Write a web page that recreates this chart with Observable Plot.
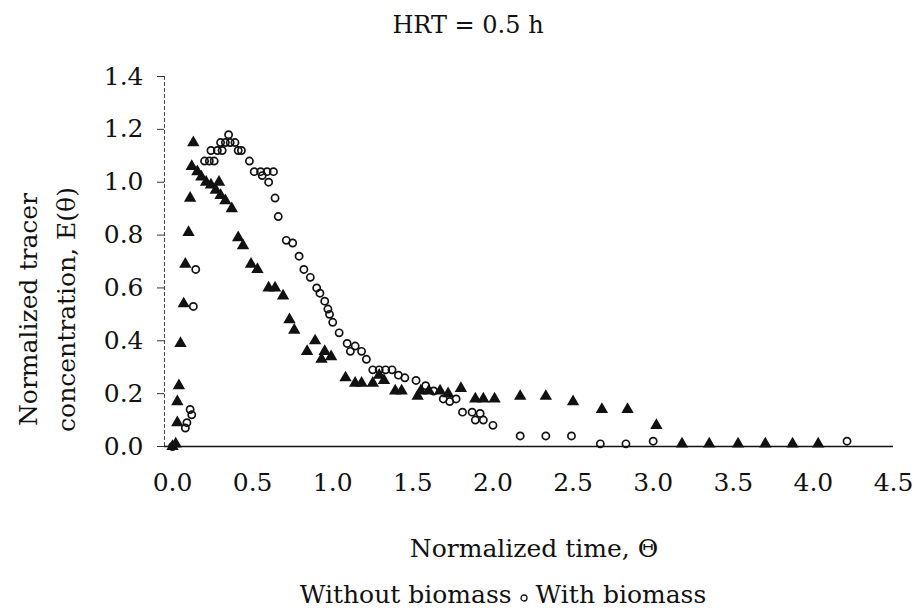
<!DOCTYPE html>
<html>
<head>
<meta charset="utf-8">
<script src="https://cdn.jsdelivr.net/npm/d3@7"></script>
<script src="https://cdn.jsdelivr.net/npm/@observablehq/plot@0.6"></script>
<style>
  html, body { margin: 0; padding: 0; background: #fff; overflow: hidden; }
  body { width: 918px; height: 611px; position: relative; font-family: "DejaVu Serif", serif; color: #111; }
  #title { position: absolute; top: 10px; left: 18px; width: 900px; text-align: center; font-size: 24px; line-height: 30px; }
  #chart { position: absolute; top: 40px; left: 0; }
  #legend { position: absolute; top: 580px; left: 88px; width: 830px; text-align: center; font-size: 25px; line-height: 30px; white-space: nowrap; }
  #legend svg { vertical-align: middle; margin: 0 7px; }
</style>
</head>
<body>
<div id="title">HRT = 0.5 h</div>
<div id="chart"></div>
<div id="legend">Without biomass<svg width="10" height="12"><circle cx="5" cy="7" r="3" fill="none" stroke="#111" stroke-width="1.3"></circle></svg>With biomass</div>
<script>
// Without biomass (filled triangles)
const thetaWithout = [0.00, 0.02, 0.03, 0.03, 0.04, 0.05, 0.07, 0.08, 0.10, 0.11, 0.13, 0.12, 0.155, 0.18, 0.21, 0.24, 0.27, 0.29, 0.30, 0.33, 0.37, 0.41, 0.44, 0.49, 0.53, 0.60, 0.64, 0.69, 0.73, 0.76, 0.84, 0.89, 0.93, 0.95, 0.99, 1.08, 1.14, 1.18, 1.25, 1.29, 1.32, 1.39, 1.43, 1.53, 1.55, 1.60, 1.67, 1.72, 1.80, 1.89, 1.94, 2.01, 2.17, 2.33, 2.50, 2.68, 2.84, 3.02, 3.18, 3.35, 3.53, 3.70, 3.87, 4.03];
const eWithout     = [0.00, 0.01, 0.09, 0.17, 0.23, 0.39, 0.54, 0.69, 0.81, 0.94, 1.15, 1.06, 1.04, 1.02, 1.00, 0.99, 0.97, 1.00, 0.95, 0.93, 0.90, 0.79, 0.76, 0.69, 0.67, 0.60, 0.60, 0.57, 0.48, 0.44, 0.36, 0.40, 0.33, 0.36, 0.34, 0.26, 0.24, 0.24, 0.24, 0.27, 0.25, 0.21, 0.21, 0.19, 0.21, 0.21, 0.21, 0.20, 0.22, 0.18, 0.18, 0.18, 0.19, 0.19, 0.17, 0.14, 0.14, 0.08, 0.01, 0.01, 0.01, 0.01, 0.01, 0.01];

// With biomass (open circles)
const thetaWith = [0.00, 0.08, 0.09, 0.11, 0.12, 0.13, 0.145, 0.20, 0.23, 0.26, 0.24, 0.28, 0.31, 0.30, 0.33, 0.36, 0.35, 0.39, 0.41, 0.43, 0.48, 0.51, 0.55, 0.59, 0.63, 0.56, 0.60, 0.64, 0.66, 0.71, 0.75, 0.79, 0.82, 0.86, 0.90, 0.92, 0.95, 0.97, 0.98, 1.00, 1.04, 1.09, 1.14, 1.11, 1.18, 1.21, 1.25, 1.29, 1.33, 1.37, 1.41, 1.45, 1.52, 1.58, 1.63, 1.69, 1.73, 1.77, 1.81, 1.87, 1.92, 1.89, 1.94, 2.00, 2.17, 2.33, 2.49, 2.67, 2.83, 3.00, 4.21];
const eWith     = [0.00, 0.07, 0.09, 0.14, 0.12, 0.53, 0.67, 1.08, 1.08, 1.08, 1.12, 1.12, 1.12, 1.15, 1.15, 1.15, 1.18, 1.15, 1.12, 1.12, 1.08, 1.04, 1.04, 1.04, 1.04, 1.025, 1.00, 0.94, 0.87, 0.78, 0.77, 0.72, 0.67, 0.64, 0.60, 0.58, 0.55, 0.52, 0.50, 0.47, 0.43, 0.39, 0.38, 0.36, 0.36, 0.33, 0.29, 0.29, 0.29, 0.29, 0.27, 0.26, 0.25, 0.23, 0.21, 0.18, 0.17, 0.18, 0.13, 0.13, 0.125, 0.10, 0.10, 0.08, 0.04, 0.04, 0.04, 0.01, 0.01, 0.02, 0.02];

const xTicks = [0, 0.5, 1.0, 1.5, 2.0, 2.5, 3.0, 3.5, 4.0, 4.5];
const yTicks = [0, 0.2, 0.4, 0.6, 0.8, 1.0, 1.2, 1.4];
const xLabel = "Normalized time, Θ";
const yLabel1 = "Normalized tracer";
const yLabel2 = "concentration, E(θ)";

const without = thetaWithout.map((t, i) => ({t, e: eWithout[i]}));
const withB = thetaWith.map((t, i) => ({t, e: eWith[i]}));

const chart = Plot.plot({
  width: 918,
  height: 545,
  marginTop: 36,
  marginBottom: 139,
  marginLeft: 164,
  marginRight: 25,
  x: {domain: [-0.05, 4.5]},
  y: {domain: [0, 1.4]},
  style: {fontFamily: "DejaVu Serif", fontSize: "25px", color: "#111", background: "#fff"},
  marks: [
    Plot.ruleX([-0.05], {y1: 0, y2: 1.4, stroke: "#444", strokeWidth: 1, strokeDasharray: "4,2"}),
    Plot.ruleY([0], {stroke: "#111", strokeWidth: 1.6}),
    Plot.axisY(yTicks, {tickSize: 7, tickPadding: 14, tickFormat: d => d.toFixed(1), label: null, stroke: "#333"}),
    Plot.axisX(xTicks, {tickSize: 0, tickPadding: 27, tickFormat: d => d.toFixed(1), label: null}),
    Plot.dot(withB, {x: "t", y: "e", r: 3.6, symbol: "circle", stroke: "#111", strokeWidth: 1.7, fill: "none"}),
    Plot.dot(without, {x: "t", y: "e", r: 4.6, symbol: "triangle", fill: "#111", stroke: "none"}),
    Plot.text([yLabel1], {frameAnchor: "left", rotate: -90, dx: -136, dy: 48, textAnchor: "middle", lineAnchor: "middle", fill: "#111"}),
    Plot.text([yLabel2], {frameAnchor: "left", rotate: -90, dx: -98, dy: 48, textAnchor: "middle", lineAnchor: "middle", fill: "#111"}),
    Plot.text([xLabel], {frameAnchor: "bottom", dx: 5, dy: 102, textAnchor: "middle", lineAnchor: "middle", fill: "#111"})
  ]
});
document.getElementById("chart").appendChild(chart);
</script>
</body>
</html>
